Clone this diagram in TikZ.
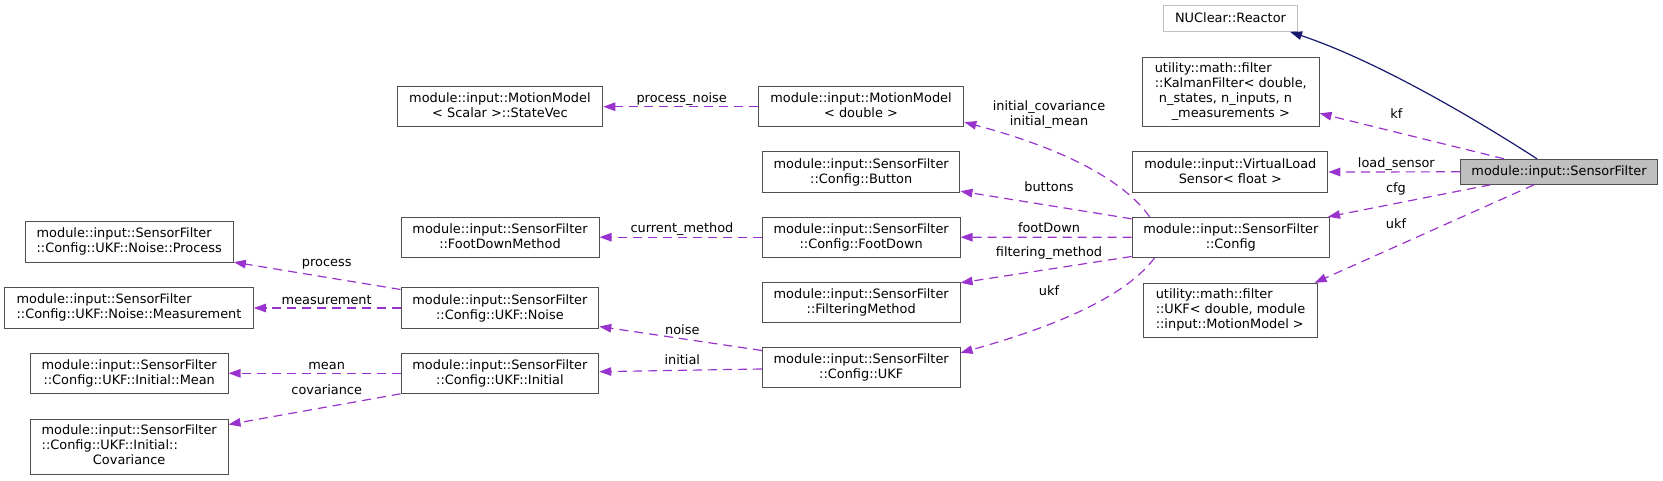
\documentclass[tikz,border=0pt]{standalone}
\usepackage{fontspec}
\setmainfont{DejaVu Sans}
\usetikzlibrary{arrows.meta}
\definecolor{edgepurple}{HTML}{9A32CD}
\definecolor{inhblue}{HTML}{191970}
\definecolor{boxgray}{HTML}{505050}
\definecolor{lightbox}{HTML}{BFBFBF}
\newcommand{\dfont}{\fontsize{12.9}{15}\selectfont}
\begin{document}
\begin{tikzpicture}[x=1pt,y=-1pt,
  cls/.style={draw=boxgray, line width=1pt, inner sep=0pt, font=\dfont, align=center, fill=white,
    execute at begin node=\vphantom{Ag}, execute at end node=\vphantom{Ag}},
  tcls/.style={draw=boxgray, line width=1pt, inner sep=0pt, font=\dfont, fill=white},
  mem/.style={draw=edgepurple, line width=1.2pt, dash pattern=on 9pt off 6pt, -{Triangle[length=12pt,width=8.5pt]}},
  inh/.style={draw=inhblue, line width=1.2pt, -{Triangle[length=12pt,width=8.5pt]}},
  lbl/.style={font=\dfont, inner sep=0pt, anchor=base}]
\useasboundingbox (0,0) rectangle (1663,480);
% right column
\node[cls, draw=lightbox, minimum width=134.3pt, minimum height=25.6pt] (reactor) at (1230.5,18.5) {NUClear::Reactor};
\node[tcls, minimum width=176.6pt, minimum height=69.4pt] (kalman) at (1230.8,92)
  {\begin{tabular}{@{}l@{}}utility::math::filter\\::KalmanFilter< double,\\\ n\_states, n\_inputs, n\\\multicolumn{1}{@{}c@{}}{\_measurements >}\end{tabular}};
\node[cls, minimum width=195pt, minimum height=40.6pt] (virtual) at (1230.3,172) {module::input::VirtualLoad\\Sensor< float >};
\node[cls, fill=lightbox, minimum width=197.4pt, minimum height=25pt] (sf) at (1559,171.8) {module::input::SensorFilter};
\node[cls, minimum width=197.4pt, minimum height=40pt] (config) at (1230.8,237.3) {module::input::SensorFilter\\::Config};
\node[tcls, minimum width=174pt, minimum height=54.4pt] (ukfutil) at (1230.5,310.5)
  {\begin{tabular}{@{}l@{}}utility::math::filter\\::UKF< double, module\\::input::MotionModel >\end{tabular}};
% middle column
\node[cls, minimum width=205.7pt, minimum height=40pt] (mmdouble) at (861,106.7) {module::input::MotionModel\\< double >};
\node[cls, minimum width=197.5pt, minimum height=40.6pt] (button) at (861.2,172) {module::input::SensorFilter\\::Config::Button};
\node[cls, minimum width=197.7pt, minimum height=40.3pt] (footdown) at (861.2,237.2) {module::input::SensorFilter\\::Config::FootDown};
\node[cls, minimum width=197.7pt, minimum height=40pt] (filtering) at (861.2,302.7) {module::input::SensorFilter\\::FilteringMethod};
\node[cls, minimum width=197.7pt, minimum height=40pt] (cukf) at (861.2,367.7) {module::input::SensorFilter\\::Config::UKF};
% second column
\node[cls, minimum width=205.7pt, minimum height=40pt] (statevec) at (499.9,106.7) {module::input::MotionModel\\< Scalar >::StateVec};
\node[cls, minimum width=198pt, minimum height=40.3pt] (fdmethod) at (500,237.2) {module::input::SensorFilter\\::FootDownMethod};
\node[cls, minimum width=197.7pt, minimum height=40.6pt] (noise) at (499.9,308) {module::input::SensorFilter\\::Config::UKF::Noise};
\node[cls, minimum width=197.7pt, minimum height=40pt] (initial) at (499.9,373.3) {module::input::SensorFilter\\::Config::UKF::Initial};
% left column
\node[tcls, minimum width=208.3pt, minimum height=40.7pt] (process) at (129.2,242.3)
  {\begin{tabular}{@{}l@{}}module::input::SensorFilter\\::Config::UKF::Noise::Process\end{tabular}};
\node[tcls, minimum width=248.6pt, minimum height=40.6pt] (measurement) at (129,308)
  {\begin{tabular}{@{}l@{}}module::input::SensorFilter\\::Config::UKF::Noise::Measurement\end{tabular}};
\node[cls, minimum width=197.7pt, minimum height=40pt] (mean) at (129.2,373.3) {module::input::SensorFilter\\::Config::UKF::Initial::Mean};
\node[tcls, minimum width=197.7pt, minimum height=55pt] (covariance) at (129.2,446.5)
  {\begin{tabular}{@{}l@{}}module::input::SensorFilter\\::Config::UKF::Initial::\\\multicolumn{1}{@{}c@{}}{Covariance}\end{tabular}};
% edges
\draw[inh] ([xshift=-22pt]sf.north) .. controls (1480,122) and (1380,62) .. ([xshift=59.5pt]reactor.south);
\draw[mem] ([xshift=-55pt]sf.north) -- ([yshift=-21.3pt]kalman.east);
\draw[mem] (sf.west) -- (virtual.east);
\draw[mem] ([xshift=-68.5pt]sf.south) -- ([xshift=-2pt]config.north east);
\draw[mem] ([xshift=-25pt]sf.south) -- ([xshift=-3.4pt]ukfutil.north east);
\draw[mem] ([xshift=18pt]config.north west) .. controls (1120,175) and (1050,145) .. ([yshift=5pt]mmdouble.south east);
\draw[mem] ([yshift=-2pt]config.north west) -- ([yshift=1.6pt]button.south east);
\draw[mem] (config.west) -- (footdown.east);
\draw[mem] ([yshift=1.3pt]config.south west) -- ([yshift=-0.6pt]filtering.north east);
\draw[mem] ([xshift=23pt]config.south west) .. controls (1125,298) and (1050,328) .. ([yshift=-5.6pt]cukf.north east);
\draw[mem] (mmdouble.west) -- (statevec.east);
\draw[mem] (footdown.west) -- (fdmethod.east);
\draw[mem] ([yshift=-3.3pt]cukf.north west) -- ([yshift=2.3pt]noise.south east);
\draw[mem] ([yshift=-1.3pt]cukf.west) -- ([yshift=1.6pt]initial.east);
\draw[mem] ([yshift=-2.3pt]noise.north west) -- ([yshift=1pt]process.south east);
\draw[mem] (noise.west) -- (measurement.east);
\draw[mem] (initial.west) -- (mean.east);
\draw[mem] (initial.south west) -- ([yshift=-6pt]covariance.north east);
% edge labels
\node[lbl] (lkf) at (1396.3,118) {kf};
\node[lbl] (lload) at (1396.3,167.3) {load\_sensor};
\node[lbl] (lcfg) at (1396,192.7) {cfg};
\node[lbl] (lukf1) at (1396,228) {ukf};
\node[font=\dfont, inner sep=0pt, align=center] (linit) at (1049,114.5) {initial\_covariance\\initial\_mean};
\node[lbl] (lbuttons) at (1049,191.7) {buttons};
\node[lbl] (lfoot) at (1049,232.7) {footDown};
\node[lbl] (lfilt) at (1049,256.3) {filtering\_method};
\node[lbl] (lukf2) at (1049,295) {ukf};
\node[lbl] (lpn) at (681.7,102.7) {process\_noise};
\node[lbl] (lcm) at (682,232.7) {current\_method};
\node[lbl] (lnoise) at (682.3,334) {noise};
\node[lbl] (linitial) at (682.3,364) {initial};
\node[lbl] (lprocess) at (326.7,266.7) {process};
\node[lbl] (lmeas) at (326.7,304) {measurement};
\node[lbl] (lmean) at (326.7,369) {mean};
\node[lbl] (lcov) at (326.7,394.7) {covariance};
\end{tikzpicture}
\end{document}
